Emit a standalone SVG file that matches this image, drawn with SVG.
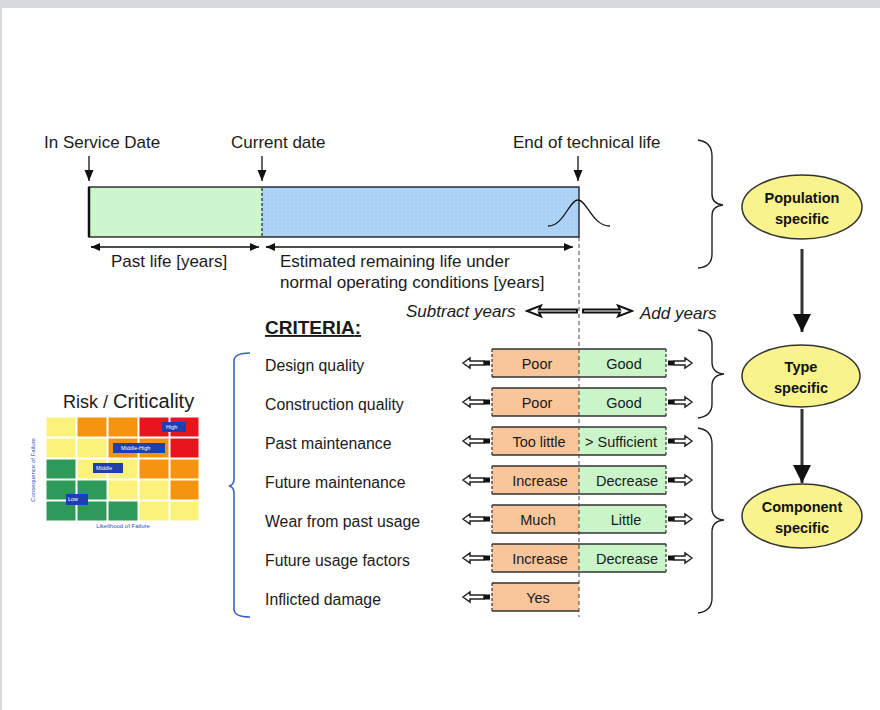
<svg xmlns="http://www.w3.org/2000/svg" width="880" height="710" viewBox="0 0 880 710">
<defs>
<style>
.t{font-family:"Liberation Sans",Arial,sans-serif;fill:#1a1a1a}
.lbl{font-size:17px}
.crit{font-size:15.8px}
.box{font-size:14.5px;text-anchor:middle}
.ell{font-family:"Liberation Sans",Arial,sans-serif;font-size:14.5px;font-weight:bold;text-anchor:middle;fill:#111}
.ellipse{fill:#f8f38c;stroke:#333;stroke-width:1.5}
.brace{fill:none;stroke:#222;stroke-width:1.4}
.ha{fill:#fff;stroke:#222;stroke-width:1.5}
.ya{fill:#fff;stroke:#111;stroke-width:1.9}
.rl{font-family:"Liberation Sans",Arial,sans-serif;font-size:5.5px;fill:#fff}
.bl{fill:#1f3fae}
</style>
<marker id="ah" markerWidth="10" markerHeight="10" refX="9" refY="5" orient="auto" markerUnits="userSpaceOnUse">
<path d="M0,1 L9,5 L0,9 Z" fill="#111"/>
</marker>
<marker id="dn" markerWidth="10" markerHeight="12" refX="5" refY="11" orient="0" markerUnits="userSpaceOnUse">
<path d="M0.5,0 L9.5,0 L5,11 Z" fill="#111"/>
</marker>
<marker id="big" markerWidth="20" markerHeight="20" refX="10" refY="18" orient="0" markerUnits="userSpaceOnUse">
<path d="M1,0 L19,0 L10,18 Z" fill="#111"/>
</marker>
<pattern id="dots" width="4" height="4" patternUnits="userSpaceOnUse">
<rect width="4" height="4" fill="#a9d1f6"/>
<circle cx="2" cy="2" r="0.7" fill="#c4e0fa"/>
</pattern>
</defs>
<rect x="0" y="0" width="880" height="710" fill="#fff"/>
<rect x="0" y="0" width="880" height="8" fill="#d9dadc"/>
<rect x="0" y="0" width="2" height="710" fill="#d9dadc"/>

<g id="timeline">
<text class="t lbl" x="44" y="148">In Service Date</text>
<text class="t lbl" x="231" y="148">Current date</text>
<text class="t lbl" x="513" y="148">End of technical life</text>
<rect x="89" y="187" width="173" height="50" fill="#ccf6cc"/>
<rect x="262" y="187" width="317" height="50" fill="url(#dots)"/>
<rect x="89" y="187" width="490" height="50" fill="none" stroke="#222" stroke-width="1.4"/>
<line x1="89" y1="187" x2="89" y2="237" stroke="#111" stroke-width="2.5"/>
<line x1="262" y1="188" x2="262" y2="236" stroke="#222" stroke-width="1.2" stroke-dasharray="3 2"/>
<path d="M548,226 C564,226 569,200 578,200 C587,200 592,226 610,226" fill="none" stroke="#111" stroke-width="1.3"/>
<text class="t lbl" x="111" y="267">Past life [years]</text>
<text class="t lbl" x="280" y="267">Estimated remaining life under</text>
<text class="t lbl" x="280" y="288">normal operating conditions [years]</text>
</g>

<g id="ellipse-population">
<ellipse class="ellipse" cx="802" cy="207" rx="60" ry="32"/>
<text class="ell" x="802" y="203">Population</text>
<text class="ell" x="802" y="224">specific</text>
</g>
<g id="ellipse-type">
<ellipse class="ellipse" cx="801" cy="376" rx="59" ry="31"/>
<text class="ell" x="801" y="372">Type</text>
<text class="ell" x="801" y="393">specific</text>
</g>
<g id="ellipse-component">
<ellipse class="ellipse" cx="802" cy="516" rx="60" ry="32"/>
<text class="ell" x="802" y="512">Component</text>
<text class="ell" x="802" y="533">specific</text>
</g>

<g id="risk-matrix">
<text class="t" x="63" y="408" font-size="18">Risk / <tspan font-size="20">Criticality</tspan></text>
<g stroke="#fff" stroke-width="1">
<rect x="46" y="417" width="30" height="20" fill="#fbf27c"/>
<rect x="77" y="417" width="30" height="20" fill="#f7940f"/>
<rect x="108" y="417" width="30" height="20" fill="#f7940f"/>
<rect x="139" y="417" width="30" height="20" fill="#e8161c"/>
<rect x="170" y="417" width="29" height="20" fill="#e8161c"/>
<rect x="46" y="438" width="30" height="20" fill="#fbf27c"/>
<rect x="77" y="438" width="30" height="20" fill="#fbf27c"/>
<rect x="108" y="438" width="30" height="20" fill="#f7940f"/>
<rect x="139" y="438" width="30" height="20" fill="#f7940f"/>
<rect x="170" y="438" width="29" height="20" fill="#e8161c"/>
<rect x="46" y="459" width="30" height="20" fill="#2e9a5a"/>
<rect x="77" y="459" width="30" height="20" fill="#fbf27c"/>
<rect x="108" y="459" width="30" height="20" fill="#fbf27c"/>
<rect x="139" y="459" width="30" height="20" fill="#f7940f"/>
<rect x="170" y="459" width="29" height="20" fill="#f7940f"/>
<rect x="46" y="480" width="30" height="20" fill="#2e9a5a"/>
<rect x="77" y="480" width="30" height="20" fill="#2e9a5a"/>
<rect x="108" y="480" width="30" height="20" fill="#fbf27c"/>
<rect x="139" y="480" width="30" height="20" fill="#fbf27c"/>
<rect x="170" y="480" width="29" height="20" fill="#f7940f"/>
<rect x="46" y="501" width="30" height="20" fill="#2e9a5a"/>
<rect x="77" y="501" width="30" height="20" fill="#2e9a5a"/>
<rect x="108" y="501" width="30" height="20" fill="#2e9a5a"/>
<rect x="139" y="501" width="30" height="20" fill="#fbf27c"/>
<rect x="170" y="501" width="29" height="20" fill="#fbf27c"/>
</g>
<rect class="bl" x="162" y="422" width="24" height="10"/>
<text class="rl" x="166" y="429">High</text>
<rect class="bl" x="113" y="443" width="52" height="10"/>
<text class="rl" x="121" y="450">Middle-High</text>
<rect class="bl" x="93" y="463" width="30" height="10"/>
<text class="rl" x="96" y="470">Middle</text>
<rect class="bl" x="66" y="494" width="22" height="11"/>
<text class="rl" x="68" y="501">Low</text>
<text x="123" y="528" font-family="Liberation Sans, Arial, sans-serif" font-size="6" fill="#2f52c4" text-anchor="middle">Likelihood of Failure</text>
<text x="0" y="0" font-family="Liberation Sans, Arial, sans-serif" font-size="6" fill="#2f52c4" text-anchor="middle" transform="translate(35,470) rotate(-90)">Consequence of Failure</text>
</g>

<g id="criteria">
<text class="t" x="265" y="334" font-size="19" font-weight="bold" text-decoration="underline">CRITERIA<tspan text-decoration="none">:</tspan></text>
<text class="t crit" x="265" y="371">Design quality</text>
<text class="t crit" x="265" y="410">Construction quality</text>
<text class="t crit" x="265" y="449">Past maintenance</text>
<text class="t crit" x="265" y="488">Future maintenance</text>
<text class="t crit" x="265" y="527">Wear from past usage</text>
<text class="t crit" x="265" y="566">Future usage factors</text>
<text class="t crit" x="265" y="605">Inflicted damage</text>
<path d="M250,353 Q234,353 234,361 L234,479 Q234,485 229,486 Q234,487 234,493 L234,609 Q234,617 250,617" fill="none" stroke="#3a5fcd" stroke-width="1.6"/>
<text class="t" x="406" y="317" font-size="17" font-style="italic">Subtract years</text>
<text class="t" x="640" y="319" font-size="17" font-style="italic">Add years</text>
<polygon class="ya" points="527,311 541,305.5 539,309.5 577,309.5 577,312.5 539,312.5 541,316.5"/>
<polygon class="ya" points="632,311 618,305.5 620,309.5 583,309.5 583,312.5 620,312.5 618,316.5"/>
</g>

<g id="boxes">
<g id="row1">
<rect x="492" y="349" width="87" height="28" fill="#f9c59b"/><rect x="579" y="349" width="87" height="28" fill="#c9f5c9"/>
<path d="M492,349 H666 M492,377 H666" stroke="#333" stroke-width="1.5"/>
<path d="M492,349 V377 M666,349 V377" stroke="#333" stroke-width="1.2" stroke-dasharray="3 2"/>
<text class="t box" x="537" y="369">Poor</text><text class="t box" x="624" y="369">Good</text>
</g>
<g id="row2">
<rect x="492" y="388" width="87" height="28" fill="#f9c59b"/><rect x="579" y="388" width="87" height="28" fill="#c9f5c9"/>
<path d="M492,388 H666 M492,416 H666" stroke="#333" stroke-width="1.5"/>
<path d="M492,388 V416 M666,388 V416" stroke="#333" stroke-width="1.2" stroke-dasharray="3 2"/>
<text class="t box" x="537" y="408">Poor</text><text class="t box" x="624" y="408">Good</text>
</g>
<g id="row3">
<rect x="492" y="427" width="87" height="28" fill="#f9c59b"/><rect x="579" y="427" width="87" height="28" fill="#c9f5c9"/>
<path d="M492,427 H666 M492,455 H666" stroke="#333" stroke-width="1.5"/>
<path d="M492,427 V455 M666,427 V455" stroke="#333" stroke-width="1.2" stroke-dasharray="3 2"/>
<text class="t box" x="539" y="447">Too little</text><text class="t box" x="621" y="447">&gt; Sufficient</text>
</g>
<g id="row4">
<rect x="492" y="466" width="87" height="28" fill="#f9c59b"/><rect x="579" y="466" width="87" height="28" fill="#c9f5c9"/>
<path d="M492,466 H666 M492,494 H666" stroke="#333" stroke-width="1.5"/>
<path d="M492,466 V494 M666,466 V494" stroke="#333" stroke-width="1.2" stroke-dasharray="3 2"/>
<text class="t box" x="540" y="486">Increase</text><text class="t box" x="627" y="486">Decrease</text>
</g>
<g id="row5">
<rect x="492" y="505" width="87" height="28" fill="#f9c59b"/><rect x="579" y="505" width="87" height="28" fill="#c9f5c9"/>
<path d="M492,505 H666 M492,533 H666" stroke="#333" stroke-width="1.5"/>
<path d="M492,505 V533 M666,505 V533" stroke="#333" stroke-width="1.2" stroke-dasharray="3 2"/>
<text class="t box" x="538" y="525">Much</text><text class="t box" x="626" y="525">Little</text>
</g>
<g id="row6">
<rect x="492" y="544" width="87" height="28" fill="#f9c59b"/><rect x="579" y="544" width="87" height="28" fill="#c9f5c9"/>
<path d="M492,544 H666 M492,572 H666" stroke="#333" stroke-width="1.5"/>
<path d="M492,544 V572 M666,544 V572" stroke="#333" stroke-width="1.2" stroke-dasharray="3 2"/>
<text class="t box" x="540" y="564">Increase</text><text class="t box" x="627" y="564">Decrease</text>
</g>
<g id="row7">
<rect x="492" y="583" width="87" height="28" fill="#f9c59b"/>
<path d="M492,583 H579 M492,611 H579" stroke="#333" stroke-width="1.5"/>
<path d="M492,583 V611" stroke="#333" stroke-width="1.2" stroke-dasharray="3 2"/>
<text class="t box" x="538" y="603">Yes</text>
</g>
</g>

<g id="connectors">
<line x1="89" y1="156" x2="89" y2="181" stroke="#111" stroke-width="1.3" marker-end="url(#dn)"/>
<line x1="262" y1="156" x2="262" y2="181" stroke="#111" stroke-width="1.3" marker-end="url(#dn)"/>
<line x1="578" y1="156" x2="578" y2="181" stroke="#111" stroke-width="1.3" marker-end="url(#dn)"/>
<line x1="100" y1="247" x2="91" y2="247" stroke="#111" stroke-width="1.3" marker-end="url(#ah)"/>
<line x1="91" y1="247" x2="259" y2="247" stroke="#111" stroke-width="1.3" marker-end="url(#ah)"/>
<line x1="275" y1="247" x2="266" y2="247" stroke="#111" stroke-width="1.3" marker-end="url(#ah)"/>
<line x1="266" y1="247" x2="573" y2="247" stroke="#111" stroke-width="1.3" marker-end="url(#ah)"/>
<line x1="579" y1="237" x2="579" y2="617" stroke="#444" stroke-width="1" stroke-dasharray="4 3"/>
<line x1="802" y1="249" x2="802" y2="332" stroke="#333" stroke-width="3" marker-end="url(#big)"/>
<line x1="802" y1="409" x2="802" y2="483" stroke="#333" stroke-width="3" marker-end="url(#big)"/>
<path class="brace" d="M698,140 Q712,142 712,156 L712,194 Q712,204 723,205 Q712,206 712,216 L712,254 Q712,267 698,268"/>
<path class="brace" d="M698,330 Q712,332 712,344 L712,362 Q712,373 724,374 Q712,375 712,386 L712,404 Q712,416 698,418"/>
<path class="brace" d="M698,428 Q712,430 712,444 L712,508 Q712,519 724,520 Q712,521 712,532 L712,598 Q712,611 698,613"/>
<g id="side-arrows">
<polygon class="ha" points="463,363 470,358 470,361 484,361 484,365 470,365 470,368"/><rect x="484" y="360.5" width="6" height="5" fill="#111"/>
<rect x="668" y="360.5" width="6" height="5" fill="#111"/><polygon class="ha" points="692,363 685,358 685,361 674,361 674,365 685,365 685,368"/>
<polygon class="ha" points="463,402 470,397 470,400 484,400 484,404 470,404 470,407"/><rect x="484" y="399.5" width="6" height="5" fill="#111"/>
<rect x="668" y="399.5" width="6" height="5" fill="#111"/><polygon class="ha" points="692,402 685,397 685,400 674,400 674,404 685,404 685,407"/>
<polygon class="ha" points="463,441 470,436 470,439 484,439 484,443 470,443 470,446"/><rect x="484" y="438.5" width="6" height="5" fill="#111"/>
<rect x="668" y="438.5" width="6" height="5" fill="#111"/><polygon class="ha" points="692,441 685,436 685,439 674,439 674,443 685,443 685,446"/>
<polygon class="ha" points="463,480 470,475 470,478 484,478 484,482 470,482 470,485"/><rect x="484" y="477.5" width="6" height="5" fill="#111"/>
<rect x="668" y="477.5" width="6" height="5" fill="#111"/><polygon class="ha" points="692,480 685,475 685,478 674,478 674,482 685,482 685,485"/>
<polygon class="ha" points="463,519 470,514 470,517 484,517 484,521 470,521 470,524"/><rect x="484" y="516.5" width="6" height="5" fill="#111"/>
<rect x="668" y="516.5" width="6" height="5" fill="#111"/><polygon class="ha" points="692,519 685,514 685,517 674,517 674,521 685,521 685,524"/>
<polygon class="ha" points="463,558 470,553 470,556 484,556 484,560 470,560 470,563"/><rect x="484" y="555.5" width="6" height="5" fill="#111"/>
<rect x="668" y="555.5" width="6" height="5" fill="#111"/><polygon class="ha" points="692,558 685,553 685,556 674,556 674,560 685,560 685,563"/>
<polygon class="ha" points="463,597 470,592 470,595 484,595 484,599 470,599 470,602"/><rect x="484" y="594.5" width="6" height="5" fill="#111"/>
</g>
</g>
</svg>
